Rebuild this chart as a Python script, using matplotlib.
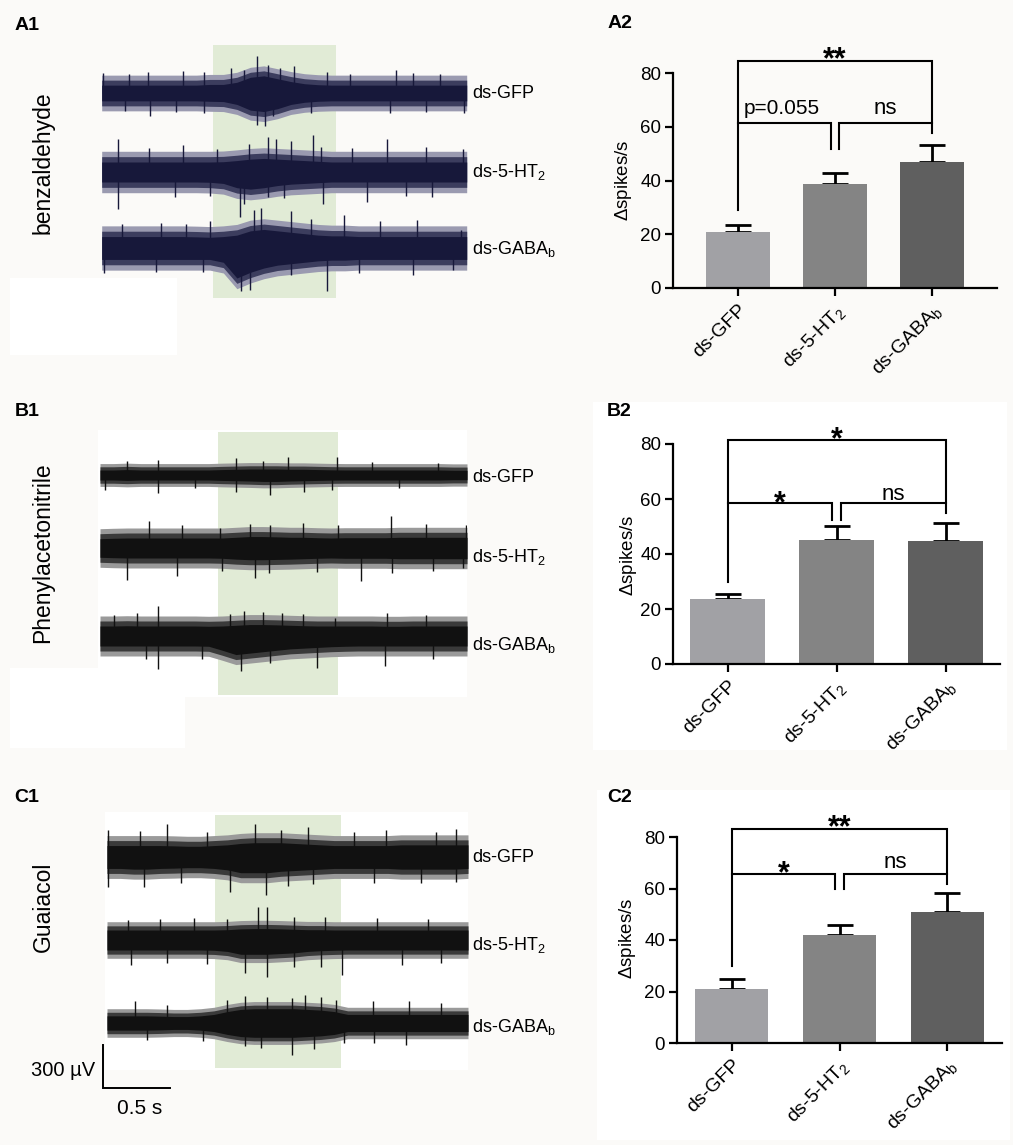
import numpy as np
import matplotlib.pyplot as plt
from matplotlib.patches import Rectangle

plt.rcParams['font.family'] = ['Liberation Sans', 'DejaVu Sans']
plt.rcParams['mathtext.fontset'] = 'custom'
plt.rcParams['mathtext.rm'] = 'Liberation Sans'
plt.rcParams['mathtext.it'] = 'Liberation Sans:italic'

# ---- bar data (spikes/s, mean and upper error) ----
groups = ['ds-GFP', 'ds-5-HT$_2$', 'ds-GABA$_\\mathrm{b}$']
a2_mean = [20.8, 38.7, 46.9]
a2_err = [2.8, 4.0, 6.3]
b2_mean = [23.6, 45.2, 44.7]
b2_err = [1.9, 5.1, 6.7]
c2_mean = [21.0, 42.1, 51.0]
c2_err = [3.9, 3.7, 7.4]
a2_sig = ['**', 'p=0.055', 'ns']
b2_sig = ['*', '*', 'ns']
c2_sig = ['**', '*', 'ns']

# ---- trace envelopes (uV), sampled every 0.1 s from 0 to 2.7 s ----
tgrid = np.round(np.arange(28) * 0.1, 1)
trace_names = ['ds-GFP', 'ds-5-HT$_2$', 'ds-GABA$_\\mathrm{b}$']

a_gfp_hi = [55,55,55,55,55,55,55,55,60,60,75,110,120,100,80,65,58,55,55,55,55,55,55,55,55,55,55,55]
a_gfp_lo = [-55,-55,-55,-55,-55,-55,-55,-55,-58,-60,-80,-120,-130,-110,-80,-65,-58,-55,-55,-55,-55,-55,-55,-55,-55,-55,-55,-55]
a_ht_hi = [70,70,70,70,70,70,70,70,70,72,80,90,95,90,85,80,75,70,70,70,70,70,70,70,70,70,70,70]
a_ht_lo = [-70,-70,-70,-70,-70,-70,-70,-70,-72,-80,-110,-120,-110,-95,-85,-80,-75,-70,-70,-70,-70,-70,-70,-70,-70,-70,-70,-70]
a_gaba_hi = [80,80,80,80,80,80,80,78,75,80,90,120,130,120,110,100,90,85,85,80,80,80,80,80,80,80,80,80]
a_gaba_lo = [-80,-80,-80,-80,-80,-80,-80,-80,-80,-100,-210,-170,-140,-120,-110,-100,-90,-85,-85,-80,-80,-80,-80,-80,-80,-80,-80,-80]

b_gfp_hi = [35,35,38,35,35,35,35,35,35,38,40,42,42,42,40,40,38,36,35,35,35,35,35,35,35,35,33,33]
b_gfp_lo = [-35,-35,-38,-35,-35,-35,-35,-35,-35,-38,-40,-42,-45,-45,-42,-40,-38,-36,-35,-35,-35,-35,-35,-35,-35,-35,-33,-33]
b_ht_hi = [65,68,70,70,70,70,70,70,70,70,75,80,80,78,75,75,72,70,72,72,72,72,75,75,75,75,75,75]
b_ht_lo = [-65,-68,-70,-70,-70,-70,-70,-70,-70,-72,-78,-82,-82,-80,-78,-75,-72,-70,-72,-72,-72,-72,-75,-75,-75,-75,-75,-75]
b_gaba_hi = [70,70,72,70,70,70,70,70,68,70,75,80,80,78,75,72,70,70,70,70,70,68,68,70,70,70,70,70]
b_gaba_lo = [-70,-70,-70,-70,-70,-70,-70,-70,-72,-100,-130,-120,-110,-100,-90,-85,-80,-75,-72,-70,-70,-70,-70,-70,-70,-70,-70,-70]

c_gfp_hi = [80,80,80,80,80,78,75,75,80,85,95,100,100,100,95,90,85,80,80,80,80,80,85,85,85,85,85,85]
c_gfp_lo = [-80,-80,-85,-85,-80,-78,-75,-75,-80,-90,-110,-110,-110,-100,-95,-90,-85,-80,-80,-80,-80,-80,-85,-85,-85,-85,-85,-80]
c_ht_hi = [70,70,70,70,70,70,70,70,70,72,78,80,80,78,75,72,72,70,70,70,70,70,70,70,70,70,70,70]
c_ht_lo = [-70,-70,-70,-70,-70,-70,-70,-70,-72,-80,-100,-100,-100,-95,-90,-80,-75,-72,-70,-70,-70,-70,-70,-70,-70,-70,-70,-70]
c_gaba_hi = [50,50,50,50,48,45,45,50,60,80,95,100,100,100,100,95,90,80,60,60,60,60,60,60,60,60,60,60]
c_gaba_lo = [-50,-50,-50,-50,-48,-45,-45,-50,-60,-80,-95,-100,-100,-100,-100,-95,-90,-80,-60,-60,-60,-60,-60,-60,-60,-60,-60,-60]

# extra width of the spiky fringe around the dense core (uV)
fringe_a = [70, 75, 75]
fringe_b = [45, 70, 70]
fringe_c = [70, 58, 50]

# tall spikes: (time s, amplitude uV)
a_gfp_sp = [(0.01,140),(0.34,150),(0.60,156),(0.76,150),(0.96,175),(1.15,256),(1.23,198),(1.42,187),
            (1.67,150),(1.84,130),(2.18,163),(2.50,130),(0.17,-128),(0.36,-163),(0.76,-140),(1.15,-221),
            (1.21,-233),(1.27,-163),(2.13,-140),(2.68,-140),(0.20,135),(1.05,160),(1.32,175),(2.30,140),
            (0.55,-135),(1.55,-140),(2.40,-135)]
a_ht_sp = [(0.12,233),(0.60,187),(1.09,198),(1.23,245),(1.29,233),(1.40,220),(1.56,256),(1.62,175),(2.11,233),
           (2.40,175),(2.67,163),(0.12,-256),(0.54,-175),(1.02,-315),(1.05,-221),(1.23,-175),(1.64,-221),
           (1.96,-210),(2.44,-175),(0.35,165),(0.85,160),(1.85,170),(0.80,-165),(1.35,-180),(2.25,-165)]
a_gaba_sp = [(0.44,175),(0.80,187),(1.13,268),(1.18,280),(1.40,256),(1.79,233),(2.06,187),(2.33,198),(2.66,128),
             (0.02,-175),(1.03,-303),(1.10,-292),(1.40,-187),(1.67,-303),(2.30,-187),(2.60,-152),(0.15,170),
             (0.62,165),(1.55,200),(0.40,-170),(0.75,-165),(1.90,-175)]
b_gfp_sp = [(0.43,105),(1.00,117),(1.38,128),(1.74,128),(2.49,82),(0.04,-105),(0.43,-128),(1.00,-117),
            (1.25,-140),(1.50,-117),(1.71,-105),(0.20,95),(1.20,100),(2.00,90),(0.70,-90),(2.20,-90)]
b_ht_sp = [(0.36,187),(0.88,140),(1.25,163),(1.49,175),(2.14,221),(2.69,163),(0.20,-221),(0.57,-198),
           (1.14,-210),(1.24,-175),(1.92,-233),(2.15,-175),(2.67,-140),(0.60,160),(1.10,165),(1.75,160),
           (2.40,165),(0.90,-160),(1.60,-165),(2.45,-160)]
b_gaba_sp = [(0.27,163),(0.43,210),(0.96,152),(1.06,175),(1.34,163),(1.49,152),(1.73,128),(2.11,163),
             (0.34,-163),(0.43,-233),(1.04,-245),(1.60,-221),(2.10,-210),(0.10,150),(1.20,165),(2.40,150),
             (0.75,-160),(1.25,-190),(2.45,-160)]
c_gfp_sp = [(0.01,187),(0.45,233),(1.11,233),(1.50,210),(2.09,187),(2.46,175),(2.61,198),(0.01,-210),
            (0.28,-210),(0.92,-245),(1.19,-268),(1.54,-187),(2.61,-175),(0.25,180),(0.75,175),(1.30,190),
            (1.85,175),(0.55,-185),(1.35,-200),(2.00,-180),(2.35,-185)]
c_ht_sp = [(0.16,140),(0.65,152),(1.13,233),(1.20,233),(1.63,163),(2.02,152),(0.18,-175),(1.03,-233),
           (1.20,-256),(1.60,-187),(1.76,-245),(2.21,-175),(0.40,145),(0.90,145),(1.40,160),(2.40,150),
           (0.45,-160),(0.75,-165),(1.40,-190),(2.50,-160)]
c_gaba_sp = [(0.21,152),(1.03,187),(1.38,175),(1.48,198),(1.71,163),(1.99,152),(2.26,152),(0.72,-128),
             (1.03,-163),(1.38,-221),(1.77,-140),(2.24,-152),(0.45,125),(0.90,160),(1.20,185),(1.60,185),
             (2.50,140),(0.30,-120),(1.15,-175),(1.55,-180),(2.00,-140)]

# ---- layout helpers (pixel based) ----
W, H = 1013, 1145
UV_PX = 7.0  # uV per pixel (300 uV bar = 43 px)
fig = plt.figure(figsize=(W / 100, H / 100), dpi=100, facecolor='#fbfaf8')


def rect(x0, y0, x1, y1):
    return [x0 / W, 1 - y1 / H, (x1 - x0) / W, (y1 - y0) / H]


# white patches behind some panels, on a background axes in pixel units
bg = fig.add_axes([0, 0, 1, 1], zorder=-5)
bg.set_xlim(0, W)
bg.set_ylim(H, 0)
bg.axis('off')
for (x0, y0, x1, y1) in [(10, 278, 177, 355), (10, 668, 185, 748), (98, 430, 467, 697),
                         (105, 812, 468, 1070), (593, 402, 1007, 750), (597, 790, 1010, 1140)]:
    bg.add_patch(Rectangle((x0, y0), x1 - x0, y1 - y0, facecolor='white', edgecolor='none'))


def draw_trace_panel(box, centers, green, traces, colors, label_ys):
    x0, y0, x1, y1 = box
    color, mid_col, light_col = colors
    ax = fig.add_axes(rect(x0, y0, x1, y1))
    ax.set_xlim(0, 2.7)
    ax.set_ylim(0, (y1 - y0) * UV_PX)
    ax.axis('off')
    ax.axvspan(green[0], green[1], color='#e1ebd6', lw=0, zorder=0)
    for c, (hi, lo, fr, sp), ly, name in zip(centers, traces, label_ys, trace_names):
        off = (y1 - c) * UV_PX
        hi = np.array(hi)
        lo = np.array(lo)
        ax.fill_between(tgrid, off + lo - fr, off + hi + fr, color=light_col, lw=0, zorder=2)
        ax.fill_between(tgrid, off + lo - fr * 0.5, off + hi + fr * 0.5, color=mid_col, lw=0, zorder=2)
        ax.fill_between(tgrid, off + lo, off + hi, color=color, lw=0, zorder=3)
        ts = np.array([s[0] for s in sp])
        amps = np.array([s[1] for s in sp])
        ax.vlines(ts, off, off + amps, color=color, lw=1.0, zorder=3)
        fig.text(472 / W, 1 - ly / H, name, fontsize=13, va='center', ha='left')
    return ax


ax_a1 = draw_trace_panel((101.7, 45, 466.7, 298), [93, 172, 248], (0.82, 1.73),
                         [(a_gfp_hi, a_gfp_lo, fringe_a[0], a_gfp_sp),
                          (a_ht_hi, a_ht_lo, fringe_a[1], a_ht_sp),
                          (a_gaba_hi, a_gaba_lo, fringe_a[2], a_gaba_sp)],
                         ('#17183a', '#3c3d5e', '#9a9ab0'), [93, 172, 249])
ax_b1 = draw_trace_panel((100, 432, 467, 695), [475, 548, 636], (0.87, 1.75),
                         [(b_gfp_hi, b_gfp_lo, fringe_b[0], b_gfp_sp),
                          (b_ht_hi, b_ht_lo, fringe_b[1], b_ht_sp),
                          (b_gaba_hi, b_gaba_lo, fringe_b[2], b_gaba_sp)],
                         ('#111111', '#3a3a3a', '#9a9a9a'), [478, 557, 645])
ax_c1 = draw_trace_panel((107, 815, 468, 1068), [857, 940, 1023], (0.81, 1.75),
                         [(c_gfp_hi, c_gfp_lo, fringe_c[0], c_gfp_sp),
                          (c_ht_hi, c_ht_lo, fringe_c[1], c_ht_sp),
                          (c_gaba_hi, c_gaba_lo, fringe_c[2], c_gaba_sp)],
                         ('#111111', '#3a3a3a', '#9a9a9a'), [858, 945, 1027])

# scale bar in C1
sb_x = -0.03
sb_y = -20 * UV_PX
ax_c1.plot([sb_x, sb_x, sb_x + 0.5], [sb_y + 300, sb_y, sb_y], color='black', lw=1.4,
           clip_on=False, solid_joinstyle='miter')
fig.text(95 / W, 1 - 1070 / H, '300 µV', fontsize=14.5, ha='right', va='center')
fig.text(140 / W, 1 - 1108 / H, '0.5 s', fontsize=15, ha='center', va='center')

# compound labels
for y, name in [(163, 'benzaldehyde'), (553, 'Phenylacetonitrile'), (907, 'Guaiacol')]:
    fig.text(43 / W, 1 - y / H, name, rotation=90, fontsize=16.5, ha='center', va='center')

# panel letters
for x, y, lab in [(27, 25, 'A1'), (620, 23, 'A2'), (27, 412, 'B1'), (619, 412, 'B2'),
                  (27, 798, 'C1'), (620, 798, 'C2')]:
    fig.text(x / W, 1 - y / H, lab, fontsize=14, fontweight='bold', ha='center', va='center')

bar_colors = ['#a1a1a5', '#848484', '#5f5f5f']


def draw_bar_panel(x_axis, x_right, y0px, y80px, xlim, width, mean, err, sig, brk, txt_gap, ylab_xy):
    ppu = (y0px - y80px) / 80.0
    top = y0px - 95 * ppu
    ax = fig.add_axes(rect(x_axis, top, x_right, y0px))
    x = np.arange(len(mean))
    ax.bar(x, mean, width=width, color=bar_colors, edgecolor='none', zorder=2)
    ax.errorbar(x, mean, yerr=[np.zeros(3), err], fmt='none', ecolor='black', elinewidth=2,
                capsize=9.5, capthick=2, zorder=1)
    ax.set_xlim(*xlim)
    ax.set_ylim(0, 95)
    ax.patch.set_alpha(0)
    for s in ['top', 'right']:
        ax.spines[s].set_visible(False)
    ax.spines['left'].set_bounds(0, 80)
    ax.spines['left'].set_linewidth(1.6)
    ax.spines['bottom'].set_linewidth(1.6)
    ax.set_yticks([0, 20, 40, 60, 80])
    ax.tick_params(axis='both', width=1.6, length=6, labelsize=13.5)
    ax.tick_params(axis='y', pad=2.5)
    ax.set_xticks(x)
    ax.set_xticklabels(groups, rotation=45, ha='right', rotation_mode='anchor', fontsize=14)
    # significance brackets
    top_y, gfp_bot, gaba_bot, low_y, mid_bot = brk
    kw = dict(color='black', lw=1.5, clip_on=False, solid_joinstyle='miter')
    ax.plot([0, 0, 2, 2], [gfp_bot, top_y, top_y, gaba_bot], **kw)
    ax.plot([0, 0.96, 0.96], [low_y, low_y, mid_bot], **kw)
    ax.plot([1.04, 1.04, 2], [mid_bot, low_y, low_y], **kw)
    star = dict(ha='center', va='baseline', fontsize=22, fontweight='bold')
    ax.text(1, top_y - 3, sig[0], **star)
    if sig[1].startswith('p'):
        ax.text(0.45, low_y + txt_gap, sig[1], ha='center', va='baseline', fontsize=15)
    else:
        ax.text(0.48, low_y - 3.2, sig[1], **star)
    ax.text(1.52, low_y + txt_gap, sig[2], ha='center', va='baseline', fontsize=16)
    fig.text(ylab_xy[0] / W, 1 - ylab_xy[1] / H, '$\\Delta$spikes/s', rotation=90, fontsize=13.5,
             ha='center', va='center')
    return ax


draw_bar_panel(673, 997, 288, 73, (-0.67, 2.67), 0.65, a2_mean, a2_err, a2_sig,
               (84.6, 29.2, 57.7, 61.4, 51.7), 3.2, (624, 180))
draw_bar_panel(673, 1000, 664, 444, (-0.5, 2.5), 0.69, b2_mean, b2_err, b2_sig,
               (81.3, 29.9, 54.8, 58.4, 52.4), 1.2, (628, 555))
draw_bar_panel(677, 1002, 1043, 837, (-0.51, 2.51), 0.68, c2_mean, c2_err, c2_sig,
               (83.1, 30.0, 61.9, 65.6, 59.8), 2.4, (627, 938))

fig.savefig('out.png', dpi=100, facecolor=fig.get_facecolor())
